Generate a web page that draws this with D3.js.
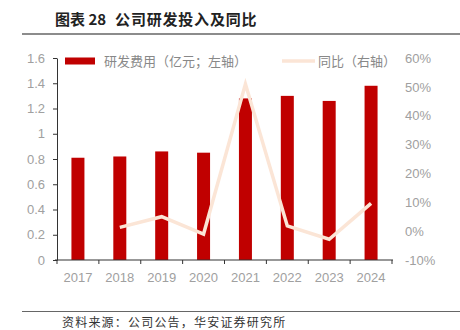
<!DOCTYPE html>
<html>
<head>
<meta charset="utf-8">
<script src="https://cdn.jsdelivr.net/npm/d3@7/dist/d3.min.js"></script>
<style>
  html, body { margin: 0; padding: 0; background: #fff; }
  svg { display: block; }
</style>
</head>
<body>
<svg id="chart" width="460" height="330"></svg>
<script>
// R&D spending (100 million CNY) and year-over-year growth
const years = ["2017", "2018", "2019", "2020", "2021", "2022", "2023", "2024"];
const rdExpense = [0.81, 0.82, 0.86, 0.85, 1.28, 1.30, 1.26, 1.38];
const yoyYears = ["2018", "2019", "2020", "2021", "2022", "2023", "2024"];
const yoyGrowth = [1.3, 5.0, -1.0, 51.0, 1.8, -2.8, 9.6];
const leftTicks = [0, 0.2, 0.4, 0.6, 0.8, 1, 1.2, 1.4, 1.6];
const rightTicks = [-10, 0, 10, 20, 30, 40, 50, 60];

const svg = d3.select("#chart");
const font = "'Liberation Sans', Arial, sans-serif";
const cjk = "'Noto Sans CJK SC', sans-serif";
const tickColor = "#a0a0a0";

const plot = { left: 57, right: 392, top: 58, bottom: 260 };

const x = d3.scaleBand().domain(years).range([plot.left, plot.right]).paddingInner(0).paddingOuter(0);
const yL = d3.scaleLinear().domain([0, 1.6]).range([plot.bottom, plot.top]);
const yR = d3.scaleLinear().domain([-10, 60]).range([plot.bottom, plot.top]);

// Title and rules
const title = svg.append("text").attr("x", 55).attr("y", 25)
  .attr("font-family", cjk).attr("font-size", 15).attr("font-weight", "bold").attr("fill", "#222");
title.append("tspan").text("图表 28");
title.append("tspan").attr("dx", 9).attr("letter-spacing", 0.8).text("公司研发投入及同比");
svg.append("line").attr("x1", 22).attr("x2", 460).attr("y1", 34).attr("y2", 34)
  .attr("stroke", "#666").attr("stroke-width", 1.5);
svg.append("line").attr("x1", 22).attr("x2", 460).attr("y1", 311.5).attr("y2", 311.5)
  .attr("stroke", "#666").attr("stroke-width", 1);
svg.append("text").attr("x", 62).attr("y", 327)
  .attr("font-family", cjk).attr("font-size", 12).attr("letter-spacing", 1.2).attr("fill", "#333")
  .text("资料来源：公司公告，华安证券研究所");

// Bars
const barW = 13;
svg.append("g").selectAll("rect").data(years).join("rect")
  .attr("x", (d) => x(d) + x.bandwidth() / 2 - barW / 2)
  .attr("width", barW)
  .attr("y", (d, i) => yL(rdExpense[i]))
  .attr("height", (d, i) => yL(0) - yL(rdExpense[i]))
  .attr("fill", "#c00000");

// YoY line on the right axis
const line = d3.line()
  .x((d, i) => x(yoyYears[i]) + x.bandwidth() / 2)
  .y((d) => yR(d));
svg.append("path").datum(yoyGrowth)
  .attr("d", line)
  .attr("fill", "none").attr("stroke", "#fbe5d6").attr("stroke-width", 3.5)
  .attr("stroke-linejoin", "miter");

// Left axis
const axL = svg.append("g").attr("transform", `translate(${plot.left},0)`)
  .call(d3.axisLeft(yL).tickValues(leftTicks).tickSize(4).tickSizeOuter(0).tickFormat((d) => d3.format("")(+d.toFixed(1))));
axL.select(".domain").attr("stroke", "#333");
axL.selectAll(".tick line").attr("stroke", "#333");
axL.selectAll(".tick text").attr("font-family", font).attr("font-size", 13).attr("fill", tickColor).attr("x", -12);

// Right axis (labels only)
const axR = svg.append("g").attr("transform", `translate(${plot.right},0)`)
  .call(d3.axisRight(yR).tickValues(rightTicks).tickSize(0).tickFormat((d) => d + "%"));
axR.select(".domain").remove();
axR.selectAll(".tick text").attr("font-family", font).attr("font-size", 13).attr("fill", tickColor).attr("x", 13);

// Bottom axis with ticks at category boundaries
const axB = svg.append("g").attr("transform", `translate(0,${plot.bottom})`);
axB.append("line").attr("x1", plot.left - 2).attr("x2", plot.right + 1)
  .attr("stroke", "#333").attr("stroke-width", 1.2);
const bounds = years.map((d) => x(d)).concat([plot.right]);
axB.selectAll("line.tk").data(bounds).join("line").attr("class", "tk")
  .attr("x1", (d) => d).attr("x2", (d) => d).attr("y1", 0).attr("y2", 4)
  .attr("stroke", "#333");
axB.selectAll("text").data(years).join("text")
  .attr("x", (d) => x(d) + x.bandwidth() / 2).attr("y", 22)
  .attr("text-anchor", "middle")
  .attr("font-family", font).attr("font-size", 13).attr("fill", tickColor)
  .text((d) => d);

// Legend
const lg = svg.append("g");
lg.append("rect").attr("x", 65).attr("y", 57.5).attr("width", 30).attr("height", 7).attr("fill", "#c00000");
lg.append("text").attr("x", 104).attr("y", 66)
  .attr("font-family", cjk).attr("font-size", 13).attr("fill", "#888")
  .text("研发费用（亿元；左轴）");
lg.append("line").attr("x1", 282).attr("x2", 315).attr("y1", 61).attr("y2", 61)
  .attr("stroke", "#fbe5d6").attr("stroke-width", 3.5);
lg.append("text").attr("x", 318).attr("y", 66)
  .attr("font-family", cjk).attr("font-size", 13).attr("fill", "#888")
  .text("同比（右轴）");
</script>
</body>
</html>
